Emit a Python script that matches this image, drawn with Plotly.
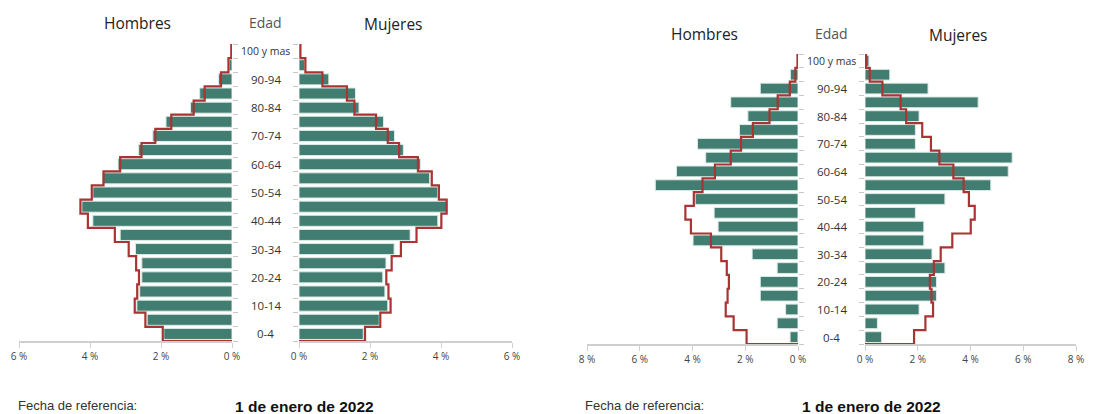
import plotly.graph_objects as go

W, H = 1098, 414

ages = ["0-4", "5-9", "10-14", "15-19", "20-24", "25-29", "30-34", "35-39",
        "40-44", "45-49", "50-54", "55-59", "60-64", "65-69", "70-74",
        "75-79", "80-84", "85-89", "90-94", "95-99", "100 y mas"]

# Reference population (red outline), % of total
ref_hombres = [1.95, 2.44, 2.74, 2.67, 2.62, 2.70, 2.91, 3.30, 4.06, 4.27, 3.95,
               3.62, 3.15, 2.55, 2.16, 1.71, 1.08, 0.77, 0.31, 0.10, 0.02]
ref_mujeres = [1.86, 2.29, 2.58, 2.52, 2.46, 2.61, 2.87, 3.31, 4.01, 4.16, 3.94,
               3.74, 3.35, 2.82, 2.50, 2.17, 1.56, 1.35, 0.66, 0.18, 0.04]

# Left chart bars
izq_hombres = [1.92, 2.39, 2.68, 2.60, 2.54, 2.54, 2.72, 3.15, 3.92, 4.23, 3.92,
               3.64, 3.21, 2.63, 2.23, 1.86, 1.17, 0.91, 0.38, 0.08, 0.01]
izq_mujeres = [1.81, 2.26, 2.50, 2.42, 2.36, 2.45, 2.68, 3.13, 3.91, 4.17, 3.91,
               3.68, 3.42, 2.94, 2.69, 2.38, 1.69, 1.59, 0.84, 0.16, 0.02]

# Right chart bars
der_hombres = [0.30, 0.79, 0.47, 1.43, 1.43, 0.79, 1.74, 3.98, 3.03, 3.18, 3.90,
               5.41, 4.61, 3.50, 3.81, 2.22, 1.90, 2.55, 1.43, 0.29, 0.00]
der_mujeres = [0.63, 0.47, 2.05, 2.71, 2.71, 3.03, 2.54, 2.23, 2.23, 1.91, 3.03,
               4.77, 5.43, 5.58, 1.91, 1.91, 2.05, 4.29, 2.39, 0.94, 0.15]

ticks_izq = [0, 2, 4, 6]
ticks_der = [0, 2, 4, 6, 8]

BAR = "#417d70"
BAR_EDGE = "#dcebe7"
RED = "#a83434"
FONT = "Open Sans"

fig = go.Figure()
n = len(ages)
idx = list(range(n))


def step_line(vals):
    xs, ys = [0, vals[0]], [-0.5, -0.5]
    for i, v in enumerate(vals):
        xs += [v, v]
        ys += [i - 0.5, i + 0.5]
    return xs, ys


def add_panel(vals, ref, k):
    sx = "" if k == 1 else str(k)
    fig.add_trace(go.Bar(x=vals, y=idx, orientation="h", width=0.78,
                         marker=dict(color=BAR, line=dict(color=BAR_EDGE, width=1)),
                         xaxis="x" + sx, yaxis="y" + sx, showlegend=False,
                         hoverinfo="skip"))
    xs, ys = step_line(ref)
    fig.add_trace(go.Scatter(x=xs, y=ys, mode="lines",
                             line=dict(color=RED, width=2.2, shape="linear"),
                             xaxis="x" + sx, yaxis="y" + sx, showlegend=False,
                             hoverinfo="skip", cliponaxis=False))


add_panel(izq_hombres, ref_hombres, 1)
add_panel(izq_mujeres, ref_mujeres, 2)
add_panel(der_hombres, ref_hombres, 3)
add_panel(der_mujeres, ref_mujeres, 4)


def px(x):
    return x / W


def py(y):
    return 1 - y / H


def xaxis(x0, x1, rng, ticks, anchor):
    return dict(domain=[px(x0), px(x1)], range=rng, tickvals=ticks, anchor=anchor,
                ticktext=[f"{t} %" for t in ticks], showgrid=False, automargin=False,
                zeroline=False, showline=True, linecolor="#cfcfcf", linewidth=1.5,
                ticks="outside", ticklen=5, tickcolor="#cfcfcf", tickwidth=1,
                tickfont=dict(family=FONT, size=10, color="#444"), fixedrange=True)


def yaxis(top, bot, anchor, side):
    return dict(domain=[py(bot), py(top)], range=[-0.5, n - 0.5], anchor=anchor,
                side=side, tickvals=[i - 0.5 for i in range(n + 1)], automargin=False,
                ticktext=[""] * (n + 1), ticks="outside", ticklen=5,
                tickcolor="#c8c8c8", tickwidth=1, showgrid=False, zeroline=False,
                showline=False, fixedrange=True)


fig.update_layout(
    width=W, height=H, margin=dict(l=0, r=0, t=0, b=0, autoexpand=False),
    paper_bgcolor="white", plot_bgcolor="white", bargap=0.2,
    xaxis=xaxis(19, 232, [6, 0], ticks_izq, "y"),
    xaxis2=xaxis(299, 512, [0, 6], ticks_izq, "y2"),
    xaxis3=xaxis(587, 798, [8, 0], ticks_der, "y3"),
    xaxis4=xaxis(865, 1076, [0, 8], ticks_der, "y4"),
    yaxis=yaxis(44, 341, "x", "right"),
    yaxis2=yaxis(44, 341, "x2", "left"),
    yaxis3=yaxis(54, 344, "x3", "right"),
    yaxis4=yaxis(54, 344, "x4", "left"),
)

ann = []
# Age labels in the middle
for i in range(0, n, 2):
    lab = ages[i]
    size = 10.5 if lab == "100 y mas" else 11.5
    for cx, yr in [(265.5, "y"), (831.5, "y3")]:
        ann.append(dict(x=px(cx), y=i, xref="paper", yref=yr, text=lab,
                        xanchor="center", yanchor="middle", showarrow=False,
                        font=dict(family=FONT, size=size, color="#333")))

# Titles
for cx, cy, txt, col, sz in [(137, 23, "Hombres", "#222", 15.5), (265, 22, "Edad", "#555", 14),
                             (393, 24, "Mujeres", "#222", 15.5),
                             (704, 34, "Hombres", "#222", 15.5), (831, 33, "Edad", "#555", 14),
                             (958, 35, "Mujeres", "#222", 15.5)]:
    ann.append(dict(x=px(cx), y=py(cy), xref="paper", yref="paper", text=txt,
                    xanchor="center", yanchor="middle", showarrow=False,
                    font=dict(family=FONT, size=sz, color=col)))

# Reference date
for x0, x1 in [(16, 233), (583, 800)]:
    ann.append(dict(x=px(x0), y=py(405), xref="paper", yref="paper",
                    text="Fecha de referencia:", xanchor="left", yanchor="middle",
                    showarrow=False,
                    font=dict(family="Liberation Sans", size=13, color="#333")))
    ann.append(dict(x=px(x1), y=py(406), xref="paper", yref="paper",
                    text="<b>1 de enero de 2022</b>", xanchor="left", yanchor="middle",
                    showarrow=False,
                    font=dict(family="Liberation Sans", size=15.5, color="#111")))

fig.update_layout(annotations=ann)
fig.write_html("out.html", config={"displayModeBar": False},
               post_script="document.body.style.margin='0';document.body.style.overflow='hidden';")
